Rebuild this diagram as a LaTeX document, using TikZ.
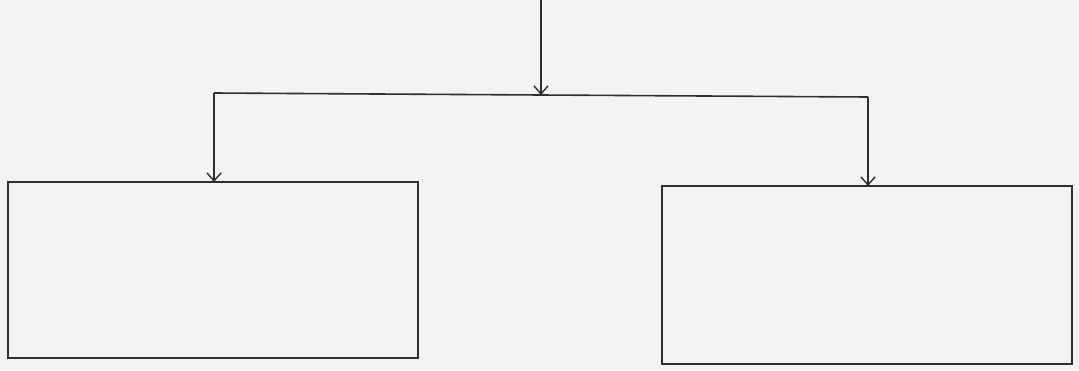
\documentclass[tikz,border=0pt]{standalone}
\usetikzlibrary{arrows.meta}
\definecolor{ink}{HTML}{2E2E2E}
\definecolor{paper}{HTML}{F3F3F3}
\begin{document}
\begin{tikzpicture}[x=1pt,y=-1pt,
  line/.style={draw=ink,line width=1.6pt},
  arr/.style={line,-{Straight Barb[length=8pt,width=14pt,line width=1.4pt]}},
  box/.style={draw=ink,line width=1.8pt,minimum width=410pt,minimum height=176pt,inner sep=0pt,outer sep=0pt}]
  \fill[paper] (0,0) rectangle (1079,370);
  \useasboundingbox (0,0) rectangle (1079,370);
  \node[box] (lbox) at (213,270) {};
  \node[box,minimum height=178pt] (rbox) at (867,275) {};
  \coordinate (top) at (541,0);
  \coordinate (jl) at (214,93);
  \coordinate (jr) at (868,97);
  \coordinate (jm) at (541,95);
  \draw[line] (jl) -- (jr);
  \draw[arr] (top) -- (jm);
  \draw[arr] (jl) -- (jl |- lbox.north);
  \draw[arr] (jr) -- (jr |- rbox.north);
\end{tikzpicture}
\end{document}
